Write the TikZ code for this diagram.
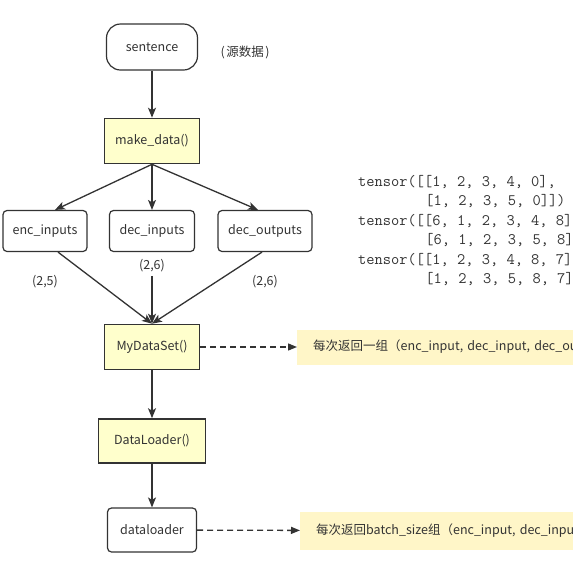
\documentclass[tikz,border=0pt]{standalone}
\usepackage{fontspec}
\setmainfont{Noto Sans CJK SC}
\usetikzlibrary{arrows.meta,calc}
\definecolor{boxyellow}{RGB}{255,255,204}
\definecolor{noteyellow}{RGB}{255,246,200}
\definecolor{linegray}{RGB}{51,51,51}

\begin{document}
\begin{tikzpicture}[x=1pt,y=-1pt,text=linegray,
    font=\fontsize{12.5}{14}\selectfont,
    funcbox/.style={draw=linegray,line width=1.6pt,fill=boxyellow,minimum width=95pt,minimum height=45pt,inner sep=0pt},
    databox/.style={draw=linegray,line width=1.2pt,rounded corners=4pt,fill=white,minimum height=41pt,inner sep=0pt},
    note/.style={fill=noteyellow,anchor=west,text width=420pt,inner xsep=16pt,inner ysep=0pt},
    flow/.style={draw=linegray,line width=1.3pt,-{Stealth[length=10pt,width=8pt,inset=2.5pt]}},
    ref/.style={draw=linegray,line width=1.3pt,dash pattern=on 6pt off 4pt,-{Triangle[length=9pt,width=7pt]}},
    tensorline/.style={anchor=base west,font=\fontsize{16}{18}\selectfont\ttfamily,inner sep=0pt}]
    \useasboundingbox (0,0) rectangle (573,574);
    \clip (0,0) rectangle (573,574);

    \node[databox,rounded corners=14pt,minimum width=91pt,minimum height=46pt] (sent) at (152,47) {sentence};
    \node (srclbl) at (245,52) {(\hspace{1.5pt}源数据\hspace{1.5pt})};
    \node[funcbox] (make) at (152,141) {make\_data()};
    \node[databox,minimum width=84pt] (enc) at (45,231) {enc\_inputs};
    \node[databox,minimum width=85pt] (dec) at (152,231) {dec\_inputs};
    \node[databox,minimum width=94pt] (decout) at (265,231) {dec\_outputs};
    \node (shpenc) at (45,282) {(2,5)};
    \node (shpdec) at (152,266) {(2,6)};
    \node (shpout) at (265,282) {(2,6)};
    \node[funcbox] (mds) at (152,347) {MyDataSet()};
    \node[funcbox,minimum width=107pt,minimum height=44pt] (dl) at (152,441) {DataLoader()};
    \node[databox,minimum width=89pt,minimum height=44pt] (loader) at (152,530) {dataloader};
    \node[note,minimum height=35pt] (note1) at (297,347) {每次返回一组（enc\_input, dec\_input, dec\_output）};
    \node[note,minimum height=38pt] (note2) at (300,531) {每次返回batch\_size组（enc\_input, dec\_input, dec\_output）};

    \draw[flow] (sent) -- (make);
    \draw[flow] (make.south) -- ($(enc.north)+(10,0)$);
    \draw[flow] (make) -- (dec);
    \draw[flow] (make.south) -- ($(decout.north)+(-7,0)$);
    \draw[flow] ($(enc.south)+(13,0)$) -- (mds.north);
    \draw[flow] (shpdec) -- (mds.north);
    \draw[flow] ($(decout.south)+(-3,0)$) -- (mds.north);
    \draw[ref] (mds) -- (note1);
    \draw[flow] (mds) -- (dl);
    \draw[flow] (dl) -- (loader);
    \draw[ref] (loader) -- (note2);

    \node[tensorline] (t1) at (358,186) {tensor([[1, 2, 3, 4, 0],};
    \node[tensorline] (t2) at (425.2,205) {[1, 2, 3, 5, 0]])};
    \node[tensorline] (t3) at (358,225) {tensor([[6, 1, 2, 3, 4, 8],};
    \node[tensorline] (t4) at (425.2,244) {[6, 1, 2, 3, 5, 8]])};
    \node[tensorline] (t5) at (358,264) {tensor([[1, 2, 3, 4, 8, 7],};
    \node[tensorline] (t6) at (425.2,283) {[1, 2, 3, 5, 8, 7]])};
\end{tikzpicture}
\end{document}
